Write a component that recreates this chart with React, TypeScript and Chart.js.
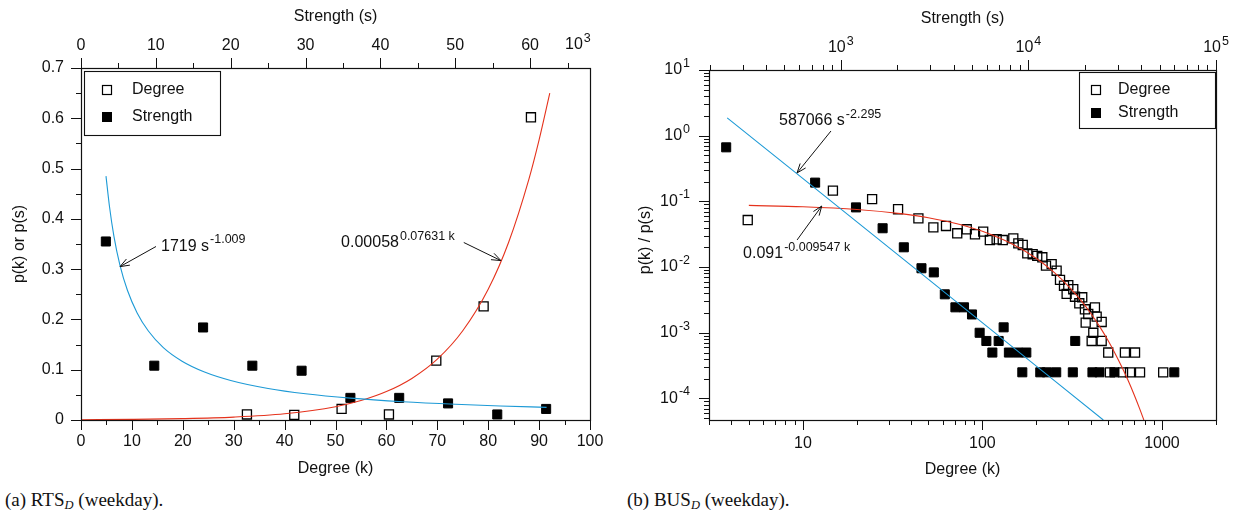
import React, { useEffect, useRef } from "react";
import { Chart, registerables } from "chart.js";

Chart.register(...registerables);

const FONT = '"Liberation Sans", Arial, Helvetica, sans-serif';
const INK = "#111111";
const BLUE = "#1d9ad6";
const RED = "#e5321c";

// ================= (a) RTS_D (weekday) =================
const rtsDegreeK = [32.6, 41.9, 51.2, 60.5, 69.8, 79.1, 88.4];
const rtsDegreeP = [0.011, 0.01, 0.022, 0.011, 0.118, 0.226, 0.602];
// strength in units of 10^3
const rtsStrengthS = [3.32, 9.79, 16.31, 22.89, 29.47, 35.99, 42.51, 49.04, 55.61, 62.14];
const rtsStrengthP = [0.355, 0.108, 0.184, 0.108, 0.098, 0.044, 0.044, 0.033, 0.011, 0.022];
// fitted curve 1719 s^-1.009
const rtsPowerFitS = [3.34, 3.8, 4.4, 5.2, 6.2, 7.5, 9, 11, 13.5, 16.5, 20, 25, 30, 36, 43, 50, 56, 62.2];
const rtsPowerFitP = [0.485, 0.425, 0.365, 0.308, 0.258, 0.213, 0.177, 0.144, 0.117, 0.0955, 0.0787, 0.0628, 0.0522, 0.0435, 0.0364, 0.0313, 0.0279, 0.0251];
// fitted curve 0.00058 e^(0.07631 k)
const rtsExpFitK = [0, 10, 20, 30, 40, 50, 55, 60, 65, 70, 75, 80, 84, 88, 90, 92.1];
const rtsExpFitP = [0.00058, 0.00124, 0.00267, 0.00572, 0.0123, 0.0263, 0.0386, 0.0565, 0.0827, 0.121, 0.1775, 0.26, 0.353, 0.479, 0.557, 0.65];
const rtsYTicks = [0, 0.1, 0.2, 0.3, 0.4, 0.5, 0.6, 0.7];
const rtsYLabels = ["0", "0.1", "0.2", "0.3", "0.4", "0.5", "0.6", "0.7"];
const rtsXTicks = [0, 10, 20, 30, 40, 50, 60, 70, 80, 90, 100];
const rtsTopTicks = [0, 10, 20, 30, 40, 50, 60];

// ================= (b) BUS_D (weekday) =================
const busDegreeK = [4.93, 14.7, 24.3, 33.9, 44, 53.3, 62.7, 72.4, 81.8, 90.9, 101, 110, 120, 129.8, 148.6, 158.5, 167.7, 177.8, 190.5, 202, 215.6, 226, 243, 259, 270.5, 284.7, 300.8, 294.5, 320.6, 327.8, 359.7, 346.4, 372.3, 423.4, 388.7, 432.8, 376, 461.6, 414.6, 406, 461.6, 502, 622, 708, 513, 607, 664, 755, 1016];
const busDegreeP = [0.052, 0.146, 0.108, 0.076, 0.055, 0.0403, 0.0422, 0.0327, 0.0376, 0.0316, 0.0346, 0.0258, 0.0265, 0.0258, 0.0274, 0.023, 0.0217, 0.0162, 0.0157, 0.0148, 0.0141, 0.0105, 0.0111, 0.0088, 0.0064, 0.0052, 0.0053, 0.0039, 0.0046, 0.00354, 0.00347, 0.00281, 0.00228, 0.00244, 0.00193, 0.00176, 0.00143, 0.00146, 0.001, 0.00075, 0.00075, 0.0005, 0.0005, 0.0005, 0.00025, 0.00025, 0.00025, 0.00025, 0.00025];
const busStrengthS = [245, 730, 1205, 1671, 2168, 2692, 3133, 3585, 4083, 4538, 5005, 5497, 5970, 6942, 7380, 6426, 7872, 8790, 9750, 17770, 9281, 11570, 12540, 14070, 17250, 21950, 23920, 28730, 59950];
const busStrengthP = [0.665, 0.193, 0.081, 0.039, 0.02, 0.0096, 0.0083, 0.00385, 0.00244, 0.00244, 0.0019, 0.001, 0.00075, 0.00075, 0.00121, 0.0005, 0.0005, 0.0005, 0.0005, 0.00075, 0.00025, 0.00025, 0.00025, 0.00025, 0.00025, 0.00025, 0.00025, 0.00025, 0.00025];
// fitted line 587066 s^-2.295
const busPowerFitS = [248, 2500, 25080];
const busPowerFitP = [1.87, 0.0094, 0.000047];
// fitted curve 0.091 e^(-0.009547 k)
const busExpFitK = [5, 10, 20, 35, 50, 75, 100, 150, 200, 250, 300, 350, 400, 450, 500, 550, 600, 650, 700, 750, 793];
const busExpFitP = [0.0868, 0.0827, 0.0752, 0.0651, 0.0565, 0.0445, 0.035, 0.0217, 0.01349, 0.00837, 0.00519, 0.00322, 0.002, 0.00124, 0.000769, 0.000477, 0.000296, 0.000184, 0.000114, 0.0000707, 0.000047];
const busYExponents = [1, 0, -1, -2, -3, -4];
const busXTicks = [10, 100, 1000];
const busXLabels = ["10", "100", "1000"];
const busTopExponents = [3, 4, 5];

type Pt = { x: number; y: number };
const zip = (xs: number[], ys: number[]): Pt[] => xs.map((x, i) => ({ x, y: ys[i] }));

function setFont(ctx: CanvasRenderingContext2D, size: number) {
  ctx.font = `${size}px ${FONT}`;
}

function supLabel(
  ctx: CanvasRenderingContext2D,
  base: string,
  exp: string,
  x: number,
  y: number,
  align: "left" | "center" | "right",
  size = 16,
  expSize = 12.5,
  rise = 6.5
) {
  setFont(ctx, size);
  const w1 = ctx.measureText(base).width;
  setFont(ctx, expSize);
  const w2 = ctx.measureText(exp).width;
  const gap = 1;
  const total = w1 + gap + w2;
  const x0 = align === "left" ? x : align === "right" ? x - total : x - total / 2;
  ctx.textAlign = "left";
  ctx.textBaseline = "middle";
  setFont(ctx, size);
  ctx.fillText(base, x0, y);
  setFont(ctx, expSize);
  ctx.fillText(exp, x0 + w1 + gap, y - rise);
}

function arrow(ctx: CanvasRenderingContext2D, x1: number, y1: number, x2: number, y2: number) {
  ctx.beginPath();
  ctx.moveTo(x1, y1);
  ctx.lineTo(x2, y2);
  ctx.stroke();
  const ang = Math.atan2(y2 - y1, x2 - x1);
  const L = 10;
  const a = 0.36;
  ctx.beginPath();
  ctx.moveTo(x2 - L * Math.cos(ang - a), y2 - L * Math.sin(ang - a));
  ctx.lineTo(x2, y2);
  ctx.lineTo(x2 - L * Math.cos(ang + a), y2 - L * Math.sin(ang + a));
  ctx.stroke();
}

function tickX(ctx: CanvasRenderingContext2D, x: number, y: number, len: number) {
  const xx = Math.round(x) + 0.5;
  ctx.beginPath();
  ctx.moveTo(xx, y);
  ctx.lineTo(xx, y + len);
  ctx.stroke();
}

function tickY(ctx: CanvasRenderingContext2D, x: number, y: number, len: number) {
  const yy = Math.round(y) + 0.5;
  ctx.beginPath();
  ctx.moveTo(x, yy);
  ctx.lineTo(x + len, yy);
  ctx.stroke();
}

function frame(ctx: CanvasRenderingContext2D, a: { left: number; right: number; top: number; bottom: number }) {
  ctx.strokeStyle = INK;
  ctx.lineWidth = 1.2;
  ctx.strokeRect(Math.round(a.left) + 0.5, Math.round(a.top) + 0.5, Math.round(a.right - a.left), Math.round(a.bottom - a.top));
}

function legend(
  ctx: CanvasRenderingContext2D,
  x: number,
  y: number,
  w: number,
  h: number,
  mx: number,
  tx: number,
  rows: number[]
) {
  ctx.fillStyle = "#ffffff";
  ctx.fillRect(x, y, w, h);
  ctx.strokeStyle = INK;
  ctx.lineWidth = 1.1;
  ctx.strokeRect(Math.round(x) + 0.5, Math.round(y) + 0.5, w, h);
  const s = 9;
  ctx.lineWidth = 1.2;
  ctx.strokeStyle = "#000";
  ctx.strokeRect(x + mx - s / 2, y + rows[0] - s / 2, s, s);
  ctx.fillStyle = "#000";
  ctx.fillRect(x + mx - s / 2 - 0.5, y + rows[1] - s / 2 - 0.5, s + 1, s + 1);
  ctx.fillStyle = INK;
  setFont(ctx, 16);
  ctx.textAlign = "left";
  ctx.textBaseline = "middle";
  ctx.fillText("Degree", x + tx, y + rows[0]);
  ctx.fillText("Strength", x + tx, y + rows[1]);
}

function rotatedTitle(ctx: CanvasRenderingContext2D, text: string, x: number, y: number) {
  ctx.save();
  ctx.translate(x, y);
  ctx.rotate(-Math.PI / 2);
  setFont(ctx, 16);
  ctx.textAlign = "center";
  ctx.textBaseline = "middle";
  ctx.fillText(text, 0, 0);
  ctx.restore();
}

const rtsPlugin = {
  id: "rtsAxes",
  afterDraw(chart: any) {
    const ctx: CanvasRenderingContext2D = chart.ctx;
    const area = chart.chartArea;
    const { left, right, top, bottom } = area;
    const sx = chart.scales.x;
    const sx2 = chart.scales.x2;
    const sy = chart.scales.y;
    ctx.save();
    frame(ctx, area);
    ctx.lineWidth = 1;
    ctx.strokeStyle = INK;
    rtsYTicks.forEach((v, i) => {
      tickY(ctx, left, sy.getPixelForValue(v), -10);
      if (i < rtsYTicks.length - 1) tickY(ctx, left, sy.getPixelForValue(v + 0.05), -5);
    });
    rtsXTicks.forEach((v, i) => {
      tickX(ctx, sx.getPixelForValue(v), bottom, 10);
      if (i < rtsXTicks.length - 1) tickX(ctx, sx.getPixelForValue(v + 5), bottom, 5);
    });
    rtsTopTicks.forEach((v) => {
      tickX(ctx, sx2.getPixelForValue(v), top, -10);
      if (v + 5 <= sx2.max) tickX(ctx, sx2.getPixelForValue(v + 5), top, -5);
    });
    ctx.fillStyle = INK;
    setFont(ctx, 16);
    ctx.textBaseline = "middle";
    ctx.textAlign = "right";
    rtsYTicks.forEach((v, i) => ctx.fillText(rtsYLabels[i], left - 17, sy.getPixelForValue(v)));
    ctx.textAlign = "center";
    rtsXTicks.forEach((v) => ctx.fillText(String(v), sx.getPixelForValue(v), bottom + 22));
    rtsTopTicks.forEach((v) => ctx.fillText(String(v), sx2.getPixelForValue(v), top - 22));
    supLabel(ctx, "10", "3", right - 25, top - 23, "left");
    setFont(ctx, 16);
    ctx.textAlign = "center";
    ctx.textBaseline = "middle";
    const cx = (left + right) / 2;
    ctx.fillText("Strength (s)", cx, 17);
    ctx.fillText("Degree (k)", cx, bottom + 49);
    rotatedTitle(ctx, "p(k) or p(s)", 20, 244);

    legend(ctx, left + 3, top + 3, 136, 64, 23, 48, [19, 46]);

    ctx.strokeStyle = INK;
    ctx.fillStyle = INK;
    ctx.lineWidth = 1;
    arrow(ctx, sx2.getPixelForValue(10.02), sy.getPixelForValue(0.345), sx2.getPixelForValue(5.21), sy.getPixelForValue(0.305));
    supLabel(ctx, "1719 s", "-1.009", sx2.getPixelForValue(10.69), sy.getPixelForValue(0.345), "left");
    arrow(ctx, sx.getPixelForValue(75.2), sy.getPixelForValue(0.353), sx.getPixelForValue(82.5), sy.getPixelForValue(0.317));
    supLabel(ctx, "0.00058", "0.07631 k", sx.getPixelForValue(51.1), sy.getPixelForValue(0.352), "left");
    ctx.restore();
  },
};

const busPlugin = {
  id: "busAxes",
  afterDraw(chart: any) {
    const ctx: CanvasRenderingContext2D = chart.ctx;
    const area = chart.chartArea;
    const { left, right, top, bottom } = area;
    const sx = chart.scales.x;
    const sx2 = chart.scales.x2;
    const sy = chart.scales.y;
    ctx.save();
    frame(ctx, area);
    ctx.lineWidth = 1;
    ctx.strokeStyle = INK;
    const inRange = (v: number, s: any) => v >= s.min * 0.9999 && v <= s.max * 1.0001;
    busYExponents.forEach((e) => tickY(ctx, left, sy.getPixelForValue(Math.pow(10, e)), -10));
    for (let e = -5; e <= 1; e++) {
      for (let m = 2; m <= 9; m++) {
        const v = m * Math.pow(10, e);
        if (inRange(v, sy)) tickY(ctx, left, sy.getPixelForValue(v), -5);
      }
    }
    busXTicks.forEach((v) => tickX(ctx, sx.getPixelForValue(v), bottom, 10));
    for (let e = 0; e <= 3; e++) {
      for (let m = 2; m <= 9; m++) {
        const v = m * Math.pow(10, e);
        if (inRange(v, sx)) tickX(ctx, sx.getPixelForValue(v), bottom, 5);
      }
    }
    busTopExponents.forEach((e) => tickX(ctx, sx2.getPixelForValue(Math.pow(10, e)), top, -10));
    for (let e = 2; e <= 4; e++) {
      for (let m = 2; m <= 9; m++) {
        const v = m * Math.pow(10, e);
        if (inRange(v, sx2)) tickX(ctx, sx2.getPixelForValue(v), top, -5);
      }
    }
    ctx.fillStyle = INK;
    busYExponents.forEach((e) => supLabel(ctx, "10", String(e), left - 19, sy.getPixelForValue(Math.pow(10, e)), "right"));
    setFont(ctx, 16);
    ctx.textAlign = "center";
    ctx.textBaseline = "middle";
    busXTicks.forEach((v, i) => ctx.fillText(busXLabels[i], sx.getPixelForValue(v), bottom + 24));
    busTopExponents.forEach((e) => supLabel(ctx, "10", String(e), sx2.getPixelForValue(Math.pow(10, e)), top - 22, "center"));
    setFont(ctx, 16);
    ctx.textAlign = "center";
    ctx.textBaseline = "middle";
    const cx = (left + right) / 2;
    ctx.fillText("Strength (s)", cx, 19);
    ctx.fillText("Degree (k)", cx, bottom + 50);
    rotatedTitle(ctx, "p(k) / p(s)", 26, 240);

    legend(ctx, right - 137, top + 2, 136, 56, 17, 39, [18, 41]);

    ctx.strokeStyle = INK;
    ctx.fillStyle = INK;
    ctx.lineWidth = 1;
    arrow(ctx, sx2.getPixelForValue(886.7), sy.getPixelForValue(1.179), sx2.getPixelForValue(584.4), sy.getPixelForValue(0.2706));
    supLabel(ctx, "587066 s", "-2.295", sx2.getPixelForValue(468.5), sy.getPixelForValue(1.674), "left");
    arrow(ctx, sx.getPixelForValue(9.284), sy.getPixelForValue(0.02585), sx.getPixelForValue(12.74), sy.getPixelForValue(0.0851));
    supLabel(ctx, "0.091", "-0.009547 k", sx.getPixelForValue(4.645), sy.getPixelForValue(0.01583), "left");
    ctx.restore();
  },
};

const openSquare = {
  pointStyle: "rect" as const,
  pointRadius: 6.4,
  pointBackgroundColor: "rgba(0,0,0,0)",
  pointBorderColor: "#000",
  pointBorderWidth: 1.3,
  showLine: false,
};
const filledSquare = {
  pointStyle: "rect" as const,
  pointRadius: 6.4,
  pointBackgroundColor: "#000",
  pointBorderColor: "#000",
  pointBorderWidth: 1,
  showLine: false,
};
const fitLine = (color: string) => ({
  showLine: true,
  pointRadius: 0,
  borderColor: color,
  borderWidth: 1.1,
  fill: false,
  cubicInterpolationMode: "monotone" as const,
});

function rtsConfig(): any {
  return {
    type: "scatter",
    data: {
      datasets: [
        { label: "fit s", data: zip(rtsPowerFitS, rtsPowerFitP), xAxisID: "x2", yAxisID: "y", ...fitLine(BLUE) },
        { label: "fit k", data: zip(rtsExpFitK, rtsExpFitP), xAxisID: "x", yAxisID: "y", ...fitLine(RED) },
        { label: "Degree", data: zip(rtsDegreeK, rtsDegreeP), xAxisID: "x", yAxisID: "y", ...openSquare },
        { label: "Strength", data: zip(rtsStrengthS, rtsStrengthP), xAxisID: "x2", yAxisID: "y", ...filledSquare },
      ],
    },
    options: {
      responsive: false,
      animation: false,
      devicePixelRatio: 1,
      events: [],
      layout: { padding: { left: 81, right: 30, top: 68, bottom: 60 } },
      plugins: { legend: { display: false }, tooltip: { enabled: false }, title: { display: false } },
      scales: {
        x: { type: "linear", min: 0, max: 100, display: false },
        x2: { type: "linear", position: "top", min: 0, max: 68.0, display: false },
        y: { type: "linear", min: 0, max: 0.7, display: false },
      },
    },
    plugins: [rtsPlugin],
  };
}

function busConfig(): any {
  return {
    type: "scatter",
    data: {
      datasets: [
        { label: "fit s", data: zip(busPowerFitS, busPowerFitP), xAxisID: "x2", yAxisID: "y", ...fitLine(BLUE) },
        { label: "fit k", data: zip(busExpFitK, busExpFitP), xAxisID: "x", yAxisID: "y", ...fitLine(RED) },
        { label: "Degree", data: zip(busDegreeK, busDegreeP), xAxisID: "x", yAxisID: "y", ...openSquare },
        { label: "Strength", data: zip(busStrengthS, busStrengthP), xAxisID: "x2", yAxisID: "y", ...filledSquare },
      ],
    },
    options: {
      responsive: false,
      animation: false,
      devicePixelRatio: 1,
      events: [],
      layout: { padding: { left: 89, right: 25, top: 70, bottom: 60 } },
      plugins: { legend: { display: false }, tooltip: { enabled: false }, title: { display: false } },
      scales: {
        x: { type: "logarithmic", min: 3, max: 2000, display: false },
        x2: { type: "logarithmic", position: "top", min: 198.4, max: 100000, display: false },
        y: { type: "logarithmic", min: 0.000047, max: 10, display: false },
      },
    },
    plugins: [busPlugin],
  };
}

function Panel({ make, left, width, height }: { make: () => any; left: number; width: number; height: number }) {
  const ref = useRef<HTMLCanvasElement>(null);
  useEffect(() => {
    const chart = new Chart(ref.current as HTMLCanvasElement, make());
    return () => chart.destroy();
  }, []);
  return (
    <canvas
      ref={ref}
      width={width}
      height={height}
      style={{ position: "absolute", left, top: 0, width, height, display: "block" }}
    />
  );
}

const captionStyle: React.CSSProperties = {
  position: "absolute",
  top: 489,
  fontFamily: '"Liberation Serif", "Times New Roman", serif',
  fontSize: 19,
  color: "#111",
  whiteSpace: "nowrap",
  lineHeight: "22px",
};
const subStyle: React.CSSProperties = { fontStyle: "italic", fontSize: 12.5, verticalAlign: "-3px", lineHeight: 0 };

export default function App() {
  return (
    <div style={{ position: "fixed", left: 0, top: 0, width: 1241, height: 514, background: "#fff", overflow: "hidden" }}>
      <Panel make={rtsConfig} left={0} width={620} height={480} />
      <Panel make={busConfig} left={620} width={621} height={480} />
      <div style={{ ...captionStyle, left: 5 }}>
        (a) RTS<span style={subStyle}>D</span> (weekday).
      </div>
      <div style={{ ...captionStyle, left: 627 }}>
        (b) BUS<span style={subStyle}>D</span> (weekday).
      </div>
    </div>
  );
}
